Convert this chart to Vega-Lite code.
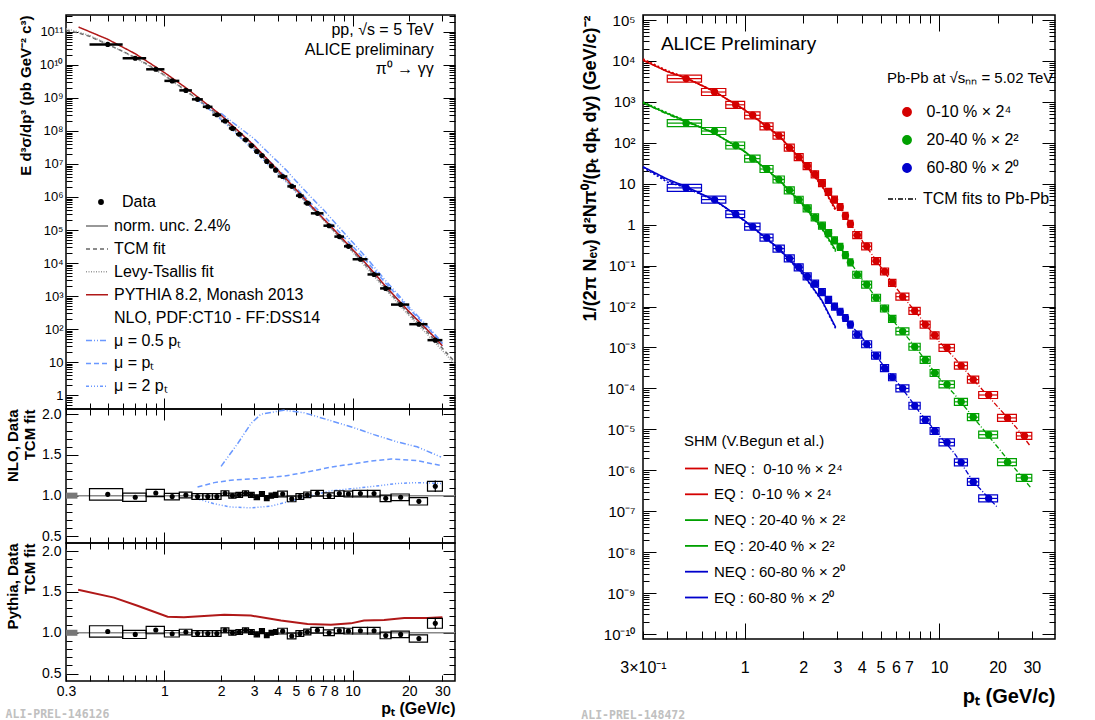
{
"$schema": "https://vega.github.io/schema/vega-lite/v6.json",
"padding": {"left": 4, "top": 0, "right": 0, "bottom": 0},
"config": {
  "font": "Liberation Sans",
  "view": {"stroke": "black", "strokeWidth": 1.5},
  "axis": {"domain": false, "grid": false, "labelColor": "black", "tickColor": "black", "titleColor": "black", "labelOverlap": false, "labelFlush": false, "tickWidth": 1, "labelFont": "Liberation Sans", "titleFont": "Liberation Sans"},
  "legend": {"padding": 0, "labelColor": "black", "titleColor": "black", "labelFont": "Liberation Sans", "titleFont": "Liberation Sans", "labelLimit": 400}
},
"datasets": {
"pp": [
{"x":0.5,"xlo":0.4,"xhi":0.6,"y":4.2e10,"r":1.016,"rlo":0.946,"rhi":1.086,"elo":1.006,"ehi":1.026},
{"x":0.7,"xlo":0.6,"xhi":0.8,"y":1.6e10,"r":0.98,"rlo":0.93,"rhi":1.03,"elo":0.972,"ehi":0.988},
{"x":0.9,"xlo":0.8,"xhi":1.0,"y":7.4e9,"r":1.033,"rlo":0.988,"rhi":1.078,"elo":1.025,"ehi":1.041},
{"x":1.1,"xlo":1.0,"xhi":1.2,"y":3.3e9,"r":0.988,"rlo":0.948,"rhi":1.028,"elo":0.98,"ehi":0.996},
{"x":1.3,"xlo":1.2,"xhi":1.4,"y":1.7e9,"r":1.008,"rlo":0.973,"rhi":1.043,"elo":1.0,"ehi":1.016},
{"x":1.5,"xlo":1.4,"xhi":1.6,"y":9.1e8,"r":0.99,"rlo":0.955,"rhi":1.025,"elo":0.982,"ehi":0.998},
{"x":1.7,"xlo":1.6,"xhi":1.8,"y":5.4e8,"r":0.99,"rlo":0.955,"rhi":1.025,"elo":0.982,"ehi":0.998},
{"x":1.9,"xlo":1.8,"xhi":2.0,"y":3.1e8,"r":0.99,"rlo":0.955,"rhi":1.025,"elo":0.982,"ehi":0.998},
{"x":2.1,"xlo":2.0,"xhi":2.2,"y":2.0e8,"r":1.03,"rlo":1.0,"rhi":1.06,"elo":1.022,"ehi":1.038},
{"x":2.3,"xlo":2.2,"xhi":2.4,"y":1.2e8,"r":1.0,"rlo":0.97,"rhi":1.03,"elo":0.992,"ehi":1.008},
{"x":2.5,"xlo":2.4,"xhi":2.6,"y":8.0e7,"r":1.01,"rlo":0.98,"rhi":1.04,"elo":1.002,"ehi":1.018},
{"x":2.7,"xlo":2.6,"xhi":2.8,"y":5.4e7,"r":1.03,"rlo":1.0,"rhi":1.06,"elo":1.022,"ehi":1.038},
{"x":2.9,"xlo":2.8,"xhi":3.0,"y":3.6e7,"r":1.01,"rlo":0.98,"rhi":1.04,"elo":1.002,"ehi":1.018},
{"x":3.1,"xlo":3.0,"xhi":3.2,"y":2.4e7,"r":0.98,"rlo":0.95,"rhi":1.01,"elo":0.972,"ehi":0.988},
{"x":3.3,"xlo":3.2,"xhi":3.4,"y":1.8e7,"r":1.02,"rlo":0.99,"rhi":1.05,"elo":1.012,"ehi":1.028},
{"x":3.5,"xlo":3.4,"xhi":3.6,"y":1.2e7,"r":0.97,"rlo":0.94,"rhi":1.0,"elo":0.962,"ehi":0.978},
{"x":3.7,"xlo":3.6,"xhi":3.8,"y":8.7e6,"r":1.0,"rlo":0.97,"rhi":1.03,"elo":0.992,"ehi":1.008},
{"x":3.9,"xlo":3.8,"xhi":4.0,"y":6.5e6,"r":1.01,"rlo":0.98,"rhi":1.04,"elo":1.002,"ehi":1.018},
{"x":4.25,"xlo":4.0,"xhi":4.5,"y":4.2e6,"r":1.02,"rlo":0.985,"rhi":1.055,"elo":1.012,"ehi":1.028},
{"x":4.75,"xlo":4.5,"xhi":5.0,"y":2.1e6,"r":0.96,"rlo":0.925,"rhi":0.995,"elo":0.952,"ehi":0.968},
{"x":5.25,"xlo":5.0,"xhi":5.5,"y":1.1e6,"r":0.99,"rlo":0.955,"rhi":1.025,"elo":0.982,"ehi":0.998},
{"x":5.75,"xlo":5.5,"xhi":6.0,"y":6.5e5,"r":1.01,"rlo":0.975,"rhi":1.045,"elo":1.002,"ehi":1.018},
{"x":6.5,"xlo":6.0,"xhi":7.0,"y":3.2e5,"r":1.03,"rlo":0.995,"rhi":1.065,"elo":1.02,"ehi":1.04},
{"x":7.5,"xlo":7.0,"xhi":8.0,"y":1.35e5,"r":1.0,"rlo":0.965,"rhi":1.035,"elo":0.99,"ehi":1.01},
{"x":8.5,"xlo":8.0,"xhi":9.0,"y":6.3e4,"r":1.025,"rlo":0.99,"rhi":1.06,"elo":1.015,"ehi":1.035},
{"x":9.5,"xlo":9.0,"xhi":10,"y":3.2e4,"r":1.02,"rlo":0.985,"rhi":1.055,"elo":1.008,"ehi":1.032},
{"x":11,"xlo":10,"xhi":12,"y":1.3e4,"r":1.025,"rlo":0.985,"rhi":1.065,"elo":1.013,"ehi":1.037},
{"x":13,"xlo":12,"xhi":14,"y":4.5e3,"r":1.025,"rlo":0.985,"rhi":1.065,"elo":1.01,"ehi":1.04},
{"x":15,"xlo":14,"xhi":16,"y":1.7e3,"r":0.967,"rlo":0.927,"rhi":1.007,"elo":0.952,"ehi":0.982},
{"x":18,"xlo":16,"xhi":20,"y":550,"r":0.98,"rlo":0.94,"rhi":1.02,"elo":0.96,"ehi":1.0},
{"x":22.5,"xlo":20,"xhi":25,"y":140,"r":0.93,"rlo":0.885,"rhi":0.975,"elo":0.9,"ehi":0.96},
{"x":27.5,"xlo":25,"xhi":30,"y":46,"r":1.115,"rlo":1.055,"rhi":1.175,"elo":1.045,"ehi":1.185}
],
"ppcurves": [
{"s":"TCM fit","x":0.3,"y":1.12e11},{"s":"TCM fit","x":0.35,"y":9.3e10},{"s":"TCM fit","x":0.4,"y":7.4e10},{"s":"TCM fit","x":0.5,"y":4.2e10},{"s":"TCM fit","x":0.6,"y":2.6e10},{"s":"TCM fit","x":0.7,"y":1.66e10},{"s":"TCM fit","x":0.8,"y":1.1e10},{"s":"TCM fit","x":1.0,"y":4.9e9},{"s":"TCM fit","x":1.2,"y":2.34e9},{"s":"TCM fit","x":1.5,"y":9.1e8},{"s":"TCM fit","x":1.8,"y":4.2e8},{"s":"TCM fit","x":2.0,"y":2.5e8},{"s":"TCM fit","x":2.5,"y":7.9e7},{"s":"TCM fit","x":3.0,"y":3.0e7},{"s":"TCM fit","x":3.5,"y":1.2e7},{"s":"TCM fit","x":4.0,"y":5.75e6},{"s":"TCM fit","x":4.5,"y":2.95e6},{"s":"TCM fit","x":5.0,"y":1.5e6},{"s":"TCM fit","x":6.0,"y":5.0e5},{"s":"TCM fit","x":7.0,"y":2.1e5},{"s":"TCM fit","x":8.0,"y":9.1e4},{"s":"TCM fit","x":10,"y":2.3e4},{"s":"TCM fit","x":12,"y":7.4e3},{"s":"TCM fit","x":15,"y":1.7e3},{"s":"TCM fit","x":18,"y":550},{"s":"TCM fit","x":20,"y":282},{"s":"TCM fit","x":25,"y":79},{"s":"TCM fit","x":30,"y":26},{"s":"TCM fit","x":35,"y":10},
{"s":"Levy-Tsallis fit","x":0.3,"y":1.25e11},{"s":"Levy-Tsallis fit","x":0.35,"y":1.0e11},{"s":"Levy-Tsallis fit","x":0.4,"y":7.8e10},{"s":"Levy-Tsallis fit","x":0.5,"y":4.3e10},{"s":"Levy-Tsallis fit","x":0.7,"y":1.65e10},{"s":"Levy-Tsallis fit","x":1.0,"y":4.8e9},{"s":"Levy-Tsallis fit","x":1.5,"y":8.9e8},{"s":"Levy-Tsallis fit","x":2.0,"y":2.45e8},{"s":"Levy-Tsallis fit","x":3.0,"y":2.95e7},{"s":"Levy-Tsallis fit","x":4.0,"y":5.6e6},{"s":"Levy-Tsallis fit","x":5.0,"y":1.45e6},{"s":"Levy-Tsallis fit","x":7.0,"y":2.0e5},{"s":"Levy-Tsallis fit","x":10,"y":2.15e4},{"s":"Levy-Tsallis fit","x":15,"y":1.55e3},{"s":"Levy-Tsallis fit","x":20,"y":250},{"s":"Levy-Tsallis fit","x":25,"y":68},{"s":"Levy-Tsallis fit","x":30,"y":22},{"s":"Levy-Tsallis fit","x":35,"y":8.5},
{"s":"μ = 0.5 pₜ","x":2.0,"y":3.4e8},{"s":"μ = 0.5 pₜ","x":2.5,"y":1.28e8},{"s":"μ = 0.5 pₜ","x":3.0,"y":5.8e7},{"s":"μ = 0.5 pₜ","x":3.5,"y":2.42e7},{"s":"μ = 0.5 pₜ","x":4.0,"y":1.17e7},{"s":"μ = 0.5 pₜ","x":4.5,"y":6.05e6},{"s":"μ = 0.5 pₜ","x":5.0,"y":3.06e6},{"s":"μ = 0.5 pₜ","x":6.0,"y":1.0e6},{"s":"μ = 0.5 pₜ","x":7.0,"y":4.1e5},{"s":"μ = 0.5 pₜ","x":8.0,"y":1.74e5},{"s":"μ = 0.5 pₜ","x":10,"y":4.23e4},{"s":"μ = 0.5 pₜ","x":12,"y":1.32e4},{"s":"μ = 0.5 pₜ","x":15,"y":2.9e3},{"s":"μ = 0.5 pₜ","x":18,"y":908},{"s":"μ = 0.5 pₜ","x":20,"y":457},{"s":"μ = 0.5 pₜ","x":25,"y":122},{"s":"μ = 0.5 pₜ","x":30,"y":38},
{"s":"μ = pₜ","x":1.5,"y":1.0e9},{"s":"μ = pₜ","x":1.8,"y":4.83e8},{"s":"μ = pₜ","x":2.0,"y":2.93e8},{"s":"μ = pₜ","x":2.5,"y":9.4e7},{"s":"μ = pₜ","x":3.0,"y":3.6e7},{"s":"μ = pₜ","x":3.5,"y":1.46e7},{"s":"μ = pₜ","x":4.0,"y":7.07e6},{"s":"μ = pₜ","x":4.5,"y":3.67e6},{"s":"μ = pₜ","x":5.0,"y":1.89e6},{"s":"μ = pₜ","x":6.0,"y":6.5e5},{"s":"μ = pₜ","x":7.0,"y":2.8e5},{"s":"μ = pₜ","x":8.0,"y":1.23e5},{"s":"μ = pₜ","x":10,"y":3.2e4},{"s":"μ = pₜ","x":12,"y":1.05e4},{"s":"μ = pₜ","x":15,"y":2.45e3},{"s":"μ = pₜ","x":18,"y":798},{"s":"μ = pₜ","x":20,"y":407},{"s":"μ = pₜ","x":25,"y":112},{"s":"μ = pₜ","x":30,"y":36},
{"s":"μ = 2 pₜ","x":1.5,"y":8.7e8},{"s":"μ = 2 pₜ","x":1.8,"y":3.8e8},{"s":"μ = 2 pₜ","x":2.0,"y":2.2e8},{"s":"μ = 2 pₜ","x":2.5,"y":6.8e7},{"s":"μ = 2 pₜ","x":3.0,"y":2.55e7},{"s":"μ = 2 pₜ","x":3.5,"y":1.03e7},{"s":"μ = 2 pₜ","x":4.0,"y":5.0e6},{"s":"μ = 2 pₜ","x":4.5,"y":2.66e6},{"s":"μ = 2 pₜ","x":5.0,"y":1.41e6},{"s":"μ = 2 pₜ","x":6.0,"y":5.0e5},{"s":"μ = 2 pₜ","x":7.0,"y":2.18e5},{"s":"μ = 2 pₜ","x":8.0,"y":9.7e4},{"s":"μ = 2 pₜ","x":10,"y":2.5e4},{"s":"μ = 2 pₜ","x":12,"y":8.2e3},{"s":"μ = 2 pₜ","x":15,"y":1.93e3},{"s":"μ = 2 pₜ","x":18,"y":633},{"s":"μ = 2 pₜ","x":20,"y":326},{"s":"μ = 2 pₜ","x":25,"y":92},{"s":"μ = 2 pₜ","x":30,"y":30},
{"s":"PYTHIA 8.2, Monash 2013","x":0.35,"y":1.41e11},{"s":"PYTHIA 8.2, Monash 2013","x":0.5,"y":6.0e10},{"s":"PYTHIA 8.2, Monash 2013","x":0.7,"y":2.19e10},{"s":"PYTHIA 8.2, Monash 2013","x":1.0,"y":5.9e9},{"s":"PYTHIA 8.2, Monash 2013","x":1.3,"y":2.04e9},{"s":"PYTHIA 8.2, Monash 2013","x":2.0,"y":3.0e8},{"s":"PYTHIA 8.2, Monash 2013","x":3.0,"y":3.6e7},{"s":"PYTHIA 8.2, Monash 2013","x":4.0,"y":6.6e6},{"s":"PYTHIA 8.2, Monash 2013","x":5.0,"y":1.7e6},{"s":"PYTHIA 8.2, Monash 2013","x":6.0,"y":5.5e5},{"s":"PYTHIA 8.2, Monash 2013","x":8.0,"y":1.0e5},{"s":"PYTHIA 8.2, Monash 2013","x":10,"y":2.57e4},{"s":"PYTHIA 8.2, Monash 2013","x":12,"y":8.5e3},{"s":"PYTHIA 8.2, Monash 2013","x":15,"y":1.95e3},{"s":"PYTHIA 8.2, Monash 2013","x":20,"y":331},{"s":"PYTHIA 8.2, Monash 2013","x":25,"y":93},{"s":"PYTHIA 8.2, Monash 2013","x":30,"y":31}
],
"nlo": [
{"s":"μ = 0.5 pₜ","x":2.0,"r":1.36},{"s":"μ = 0.5 pₜ","x":2.45,"r":1.64},{"s":"μ = 0.5 pₜ","x":2.88,"r":1.885},{"s":"μ = 0.5 pₜ","x":3.25,"r":2.0},{"s":"μ = 0.5 pₜ","x":4.3,"r":2.05},{"s":"μ = 0.5 pₜ","x":5.5,"r":2.02},{"s":"μ = 0.5 pₜ","x":7.7,"r":1.92},{"s":"μ = 0.5 pₜ","x":10,"r":1.84},{"s":"μ = 0.5 pₜ","x":13,"r":1.75},{"s":"μ = 0.5 pₜ","x":17.3,"r":1.66},{"s":"μ = 0.5 pₜ","x":22,"r":1.6},{"s":"μ = 0.5 pₜ","x":29.5,"r":1.475},
{"s":"μ = pₜ","x":1.5,"r":1.107},{"s":"μ = pₜ","x":1.84,"r":1.16},{"s":"μ = pₜ","x":2.25,"r":1.19},{"s":"μ = pₜ","x":3.13,"r":1.21},{"s":"μ = pₜ","x":4.33,"r":1.24},{"s":"μ = pₜ","x":6.0,"r":1.3},{"s":"μ = pₜ","x":7.67,"r":1.35},{"s":"μ = pₜ","x":10,"r":1.39},{"s":"μ = pₜ","x":13,"r":1.43},{"s":"μ = pₜ","x":16,"r":1.45},{"s":"μ = pₜ","x":22,"r":1.43},{"s":"μ = pₜ","x":29.5,"r":1.37},
{"s":"μ = 2 pₜ","x":1.5,"r":0.96},{"s":"μ = 2 pₜ","x":1.84,"r":0.9},{"s":"μ = 2 pₜ","x":2.25,"r":0.86},{"s":"μ = 2 pₜ","x":2.88,"r":0.85},{"s":"μ = 2 pₜ","x":3.68,"r":0.87},{"s":"μ = 2 pₜ","x":4.7,"r":0.935},{"s":"μ = 2 pₜ","x":6.0,"r":1.0},{"s":"μ = 2 pₜ","x":7.67,"r":1.06},{"s":"μ = 2 pₜ","x":10,"r":1.086},{"s":"μ = 2 pₜ","x":13,"r":1.115},{"s":"μ = 2 pₜ","x":17.3,"r":1.15},{"s":"μ = 2 pₜ","x":22,"r":1.16},{"s":"μ = 2 pₜ","x":29.5,"r":1.15}
],
"pyr": [
{"x":0.348,"r":1.525},{"x":0.54,"r":1.43},{"x":0.72,"r":1.33},{"x":1.04,"r":1.197},{"x":1.27,"r":1.19},{"x":2.08,"r":1.22},{"x":2.88,"r":1.21},{"x":4.16,"r":1.15},{"x":5.76,"r":1.107},{"x":7.67,"r":1.098},{"x":9.79,"r":1.115},{"x":11.5,"r":1.15},{"x":14.7,"r":1.156},{"x":18.8,"r":1.18},{"x":25,"r":1.18},{"x":30,"r":1.19}
],
"pbpb": [
{"c":"0-10 % × 2⁴","x":0.5,"lo":0.4,"hi":0.6,"y":3700},{"c":"0-10 % × 2⁴","x":0.7,"lo":0.6,"hi":0.8,"y":1740},{"c":"0-10 % × 2⁴","x":0.9,"lo":0.8,"hi":1.0,"y":847},{"c":"0-10 % × 2⁴","x":1.1,"lo":1.0,"hi":1.2,"y":470},{"c":"0-10 % × 2⁴","x":1.3,"lo":1.2,"hi":1.4,"y":251},{"c":"0-10 % × 2⁴","x":1.5,"lo":1.4,"hi":1.6,"y":150},{"c":"0-10 % × 2⁴","x":1.7,"lo":1.6,"hi":1.8,"y":76},{"c":"0-10 % × 2⁴","x":1.9,"lo":1.8,"hi":2.0,"y":44.5},{"c":"0-10 % × 2⁴","x":2.1,"lo":2.0,"hi":2.2,"y":27},{"c":"0-10 % × 2⁴","x":2.3,"lo":2.2,"hi":2.4,"y":17},{"c":"0-10 % × 2⁴","x":2.5,"lo":2.4,"hi":2.6,"y":10.4},{"c":"0-10 % × 2⁴","x":2.7,"lo":2.6,"hi":2.8,"y":6.3},{"c":"0-10 % × 2⁴","x":2.9,"lo":2.8,"hi":3.0,"y":4.1},{"c":"0-10 % × 2⁴","x":3.1,"lo":3.0,"hi":3.2,"y":2.7},{"c":"0-10 % × 2⁴","x":3.3,"lo":3.2,"hi":3.4,"y":1.64},{"c":"0-10 % × 2⁴","x":3.5,"lo":3.4,"hi":3.6,"y":1.04},{"c":"0-10 % × 2⁴","x":3.8,"lo":3.6,"hi":4.0,"y":0.555},{"c":"0-10 % × 2⁴","x":4.25,"lo":4.0,"hi":4.5,"y":0.296},{"c":"0-10 % × 2⁴","x":4.75,"lo":4.5,"hi":5.0,"y":0.129},{"c":"0-10 % × 2⁴","x":5.25,"lo":5.0,"hi":5.5,"y":0.0718},{"c":"0-10 % × 2⁴","x":5.75,"lo":5.5,"hi":6.0,"y":0.0377},{"c":"0-10 % × 2⁴","x":6.5,"lo":6.0,"hi":7.0,"y":0.0174},{"c":"0-10 % × 2⁴","x":7.5,"lo":7.0,"hi":8.0,"y":0.00787},{"c":"0-10 % × 2⁴","x":8.5,"lo":8.0,"hi":9.0,"y":0.00363},{"c":"0-10 % × 2⁴","x":9.5,"lo":9.0,"hi":10,"y":0.00198},{"c":"0-10 % × 2⁴","x":11,"lo":10,"hi":12,"y":9.8e-4},{"c":"0-10 % × 2⁴","x":13,"lo":12,"hi":14,"y":3.6e-4},{"c":"0-10 % × 2⁴","x":15,"lo":14,"hi":16,"y":1.64e-4},{"c":"0-10 % × 2⁴","x":18,"lo":16,"hi":20,"y":6.9e-5},{"c":"0-10 % × 2⁴","x":22.5,"lo":20,"hi":25,"y":1.9e-5},{"c":"0-10 % × 2⁴","x":27.5,"lo":25,"hi":30,"y":6.9e-6},
{"c":"20-40 % × 2²","x":0.5,"lo":0.4,"hi":0.6,"y":302},{"c":"20-40 % × 2²","x":0.7,"lo":0.6,"hi":0.8,"y":194},{"c":"20-40 % × 2²","x":0.9,"lo":0.8,"hi":1.0,"y":86},{"c":"20-40 % × 2²","x":1.1,"lo":1.0,"hi":1.2,"y":41},{"c":"20-40 % × 2²","x":1.3,"lo":1.2,"hi":1.4,"y":22.9},{"c":"20-40 % × 2²","x":1.5,"lo":1.4,"hi":1.6,"y":12.7},{"c":"20-40 % × 2²","x":1.7,"lo":1.6,"hi":1.8,"y":6.9},{"c":"20-40 % × 2²","x":1.9,"lo":1.8,"hi":2.0,"y":4.06},{"c":"20-40 % × 2²","x":2.1,"lo":2.0,"hi":2.2,"y":2.51},{"c":"20-40 % × 2²","x":2.3,"lo":2.2,"hi":2.4,"y":1.5},{"c":"20-40 % × 2²","x":2.5,"lo":2.4,"hi":2.6,"y":0.946},{"c":"20-40 % × 2²","x":2.7,"lo":2.6,"hi":2.8,"y":0.62},{"c":"20-40 % × 2²","x":2.9,"lo":2.8,"hi":3.0,"y":0.413},{"c":"20-40 % × 2²","x":3.1,"lo":3.0,"hi":3.2,"y":0.286},{"c":"20-40 % × 2²","x":3.3,"lo":3.2,"hi":3.4,"y":0.18},{"c":"20-40 % × 2²","x":3.5,"lo":3.4,"hi":3.6,"y":0.12},{"c":"20-40 % × 2²","x":3.8,"lo":3.6,"hi":4.0,"y":0.0597},{"c":"20-40 % × 2²","x":4.25,"lo":4.0,"hi":4.5,"y":0.0344},{"c":"20-40 % × 2²","x":4.75,"lo":4.5,"hi":5.0,"y":0.0164},{"c":"20-40 % × 2²","x":5.25,"lo":5.0,"hi":5.5,"y":0.00895},{"c":"20-40 % × 2²","x":5.75,"lo":5.5,"hi":6.0,"y":0.00497},{"c":"20-40 % × 2²","x":6.5,"lo":6.0,"hi":7.0,"y":0.00247},{"c":"20-40 % × 2²","x":7.5,"lo":7.0,"hi":8.0,"y":0.00104},{"c":"20-40 % × 2²","x":8.5,"lo":8.0,"hi":9.0,"y":4.97e-4},{"c":"20-40 % × 2²","x":9.5,"lo":9.0,"hi":10,"y":2.38e-4},{"c":"20-40 % × 2²","x":11,"lo":10,"hi":12,"y":1.25e-4},{"c":"20-40 % × 2²","x":13,"lo":12,"hi":14,"y":4.7e-5},{"c":"20-40 % × 2²","x":15,"lo":14,"hi":16,"y":1.98e-5},{"c":"20-40 % × 2²","x":18,"lo":16,"hi":20,"y":7.4e-6},{"c":"20-40 % × 2²","x":22.5,"lo":20,"hi":25,"y":1.58e-6},{"c":"20-40 % × 2²","x":27.5,"lo":25,"hi":30,"y":6.5e-7},
{"c":"60-80 % × 2⁰","x":0.5,"lo":0.4,"hi":0.6,"y":7.9},{"c":"60-80 % × 2⁰","x":0.7,"lo":0.6,"hi":0.8,"y":4.1},{"c":"60-80 % × 2⁰","x":0.9,"lo":0.8,"hi":1.0,"y":1.8},{"c":"60-80 % × 2⁰","x":1.1,"lo":1.0,"hi":1.2,"y":0.895},{"c":"60-80 % × 2⁰","x":1.3,"lo":1.2,"hi":1.4,"y":0.48},{"c":"60-80 % × 2⁰","x":1.5,"lo":1.4,"hi":1.6,"y":0.26},{"c":"60-80 % × 2⁰","x":1.7,"lo":1.6,"hi":1.8,"y":0.15},{"c":"60-80 % × 2⁰","x":1.9,"lo":1.8,"hi":2.0,"y":0.091},{"c":"60-80 % × 2⁰","x":2.1,"lo":2.0,"hi":2.2,"y":0.0545},{"c":"60-80 % × 2⁰","x":2.3,"lo":2.2,"hi":2.4,"y":0.0363},{"c":"60-80 % × 2⁰","x":2.5,"lo":2.4,"hi":2.6,"y":0.0225},{"c":"60-80 % × 2⁰","x":2.7,"lo":2.6,"hi":2.8,"y":0.0145},{"c":"60-80 % × 2⁰","x":2.9,"lo":2.8,"hi":3.0,"y":0.01},{"c":"60-80 % × 2⁰","x":3.1,"lo":3.0,"hi":3.2,"y":0.00745},{"c":"60-80 % × 2⁰","x":3.3,"lo":3.2,"hi":3.4,"y":0.00525},{"c":"60-80 % × 2⁰","x":3.5,"lo":3.4,"hi":3.6,"y":0.00363},{"c":"60-80 % × 2⁰","x":3.8,"lo":3.6,"hi":4.0,"y":0.00205},{"c":"60-80 % × 2⁰","x":4.25,"lo":4.0,"hi":4.5,"y":0.0012},{"c":"60-80 % × 2⁰","x":4.75,"lo":4.5,"hi":5.0,"y":6.3e-4},{"c":"60-80 % × 2⁰","x":5.25,"lo":5.0,"hi":5.5,"y":3.13e-4},{"c":"60-80 % × 2⁰","x":5.75,"lo":5.5,"hi":6.0,"y":1.87e-4},{"c":"60-80 % × 2⁰","x":6.5,"lo":6.0,"hi":7.0,"y":1.0e-4},{"c":"60-80 % × 2⁰","x":7.5,"lo":7.0,"hi":8.0,"y":3.77e-5},{"c":"60-80 % × 2⁰","x":8.5,"lo":8.0,"hi":9.0,"y":1.7e-5},{"c":"60-80 % × 2⁰","x":9.5,"lo":9.0,"hi":10,"y":9.1e-6},{"c":"60-80 % × 2⁰","x":11,"lo":10,"hi":12,"y":4.8e-6},{"c":"60-80 % × 2⁰","x":13,"lo":12,"hi":14,"y":1.56e-6},{"c":"60-80 % × 2⁰","x":15,"lo":14,"hi":16,"y":5.2e-7},{"c":"60-80 % × 2⁰","x":18,"lo":16,"hi":20,"y":2.05e-7}
],
"pbfit": [
{"c":"0-10 % × 2⁴","x":0.3,"y":1.04e4},{"c":"0-10 % × 2⁴","x":0.4,"y":5500},{"c":"0-10 % × 2⁴","x":0.5,"y":3800},{"c":"0-10 % × 2⁴","x":0.7,"y":1750},{"c":"0-10 % × 2⁴","x":1.0,"y":640},{"c":"0-10 % × 2⁴","x":1.5,"y":150},{"c":"0-10 % × 2⁴","x":2.0,"y":35},{"c":"0-10 % × 2⁴","x":2.5,"y":10.5},{"c":"0-10 % × 2⁴","x":3.0,"y":3.3},{"c":"0-10 % × 2⁴","x":3.5,"y":1.05},{"c":"0-10 % × 2⁴","x":4.0,"y":0.42},{"c":"0-10 % × 2⁴","x":5.0,"y":0.095},{"c":"0-10 % × 2⁴","x":6.0,"y":0.029},{"c":"0-10 % × 2⁴","x":7.0,"y":0.0117},{"c":"0-10 % × 2⁴","x":8.0,"y":0.0054},{"c":"0-10 % × 2⁴","x":10,"y":0.0014},{"c":"0-10 % × 2⁴","x":12,"y":5.6e-4},{"c":"0-10 % × 2⁴","x":15,"y":1.64e-4},{"c":"0-10 % × 2⁴","x":20,"y":3.6e-5},{"c":"0-10 % × 2⁴","x":25,"y":1.1e-5},{"c":"0-10 % × 2⁴","x":29.6,"y":3.8e-6},
{"c":"20-40 % × 2²","x":0.3,"y":946},{"c":"20-40 % × 2²","x":0.4,"y":500},{"c":"20-40 % × 2²","x":0.5,"y":320},{"c":"20-40 % × 2²","x":0.7,"y":180},{"c":"20-40 % × 2²","x":1.0,"y":60},{"c":"20-40 % × 2²","x":1.5,"y":12.7},{"c":"20-40 % × 2²","x":2.0,"y":3.2},{"c":"20-40 % × 2²","x":2.5,"y":0.95},{"c":"20-40 % × 2²","x":3.0,"y":0.34},{"c":"20-40 % × 2²","x":3.5,"y":0.12},{"c":"20-40 % × 2²","x":4.0,"y":0.048},{"c":"20-40 % × 2²","x":5.0,"y":0.0119},{"c":"20-40 % × 2²","x":6.0,"y":0.0037},{"c":"20-40 % × 2²","x":7.0,"y":0.0016},{"c":"20-40 % × 2²","x":8.0,"y":7.2e-4},{"c":"20-40 % × 2²","x":10,"y":1.8e-4},{"c":"20-40 % × 2²","x":12,"y":7.2e-5},{"c":"20-40 % × 2²","x":15,"y":1.98e-5},{"c":"20-40 % × 2²","x":20,"y":3.7e-6},{"c":"20-40 % × 2²","x":25,"y":1.0e-6},{"c":"20-40 % × 2²","x":29.6,"y":3.8e-7},
{"c":"60-80 % × 2⁰","x":0.3,"y":26},{"c":"60-80 % × 2⁰","x":0.4,"y":12},{"c":"60-80 % × 2⁰","x":0.5,"y":7.9},{"c":"60-80 % × 2⁰","x":0.7,"y":4.0},{"c":"60-80 % × 2⁰","x":1.0,"y":1.25},{"c":"60-80 % × 2⁰","x":1.5,"y":0.26},{"c":"60-80 % × 2⁰","x":2.0,"y":0.07},{"c":"60-80 % × 2⁰","x":2.5,"y":0.0225},{"c":"60-80 % × 2⁰","x":3.0,"y":0.0087},{"c":"60-80 % × 2⁰","x":3.5,"y":0.0036},{"c":"60-80 % × 2⁰","x":4.0,"y":0.0018},{"c":"60-80 % × 2⁰","x":5.0,"y":4.5e-4},{"c":"60-80 % × 2⁰","x":6.0,"y":1.55e-4},{"c":"60-80 % × 2⁰","x":7.0,"y":6.0e-5},{"c":"60-80 % × 2⁰","x":8.0,"y":2.5e-5},{"c":"60-80 % × 2⁰","x":10,"y":7.2e-6},{"c":"60-80 % × 2⁰","x":12,"y":2.6e-6},{"c":"60-80 % × 2⁰","x":15,"y":5.3e-7},{"c":"60-80 % × 2⁰","x":19.8,"y":1.3e-7}
],
"shm": [
{"m":"NEQ : \u00a00-10 % × 2⁴","x":0.3,"y":1.04e4},{"m":"NEQ : \u00a00-10 % × 2⁴","x":0.4,"y":5500},{"m":"NEQ : \u00a00-10 % × 2⁴","x":0.5,"y":3800},{"m":"NEQ : \u00a00-10 % × 2⁴","x":0.7,"y":1800},{"m":"NEQ : \u00a00-10 % × 2⁴","x":1.0,"y":640},{"m":"NEQ : \u00a00-10 % × 2⁴","x":1.5,"y":150},{"m":"NEQ : \u00a00-10 % × 2⁴","x":2.0,"y":34},{"m":"NEQ : \u00a00-10 % × 2⁴","x":2.5,"y":9.0},{"m":"NEQ : \u00a00-10 % × 2⁴","x":2.94,"y":2.4},
{"m":"EQ : \u00a00-10 % × 2⁴","x":0.3,"y":1.12e4},{"m":"EQ : \u00a00-10 % × 2⁴","x":0.4,"y":5800},{"m":"EQ : \u00a00-10 % × 2⁴","x":0.5,"y":3900},{"m":"EQ : \u00a00-10 % × 2⁴","x":0.7,"y":1800},{"m":"EQ : \u00a00-10 % × 2⁴","x":1.0,"y":630},{"m":"EQ : \u00a00-10 % × 2⁴","x":1.5,"y":145},{"m":"EQ : \u00a00-10 % × 2⁴","x":2.0,"y":33},{"m":"EQ : \u00a00-10 % × 2⁴","x":2.5,"y":8.6},{"m":"EQ : \u00a00-10 % × 2⁴","x":2.94,"y":2.2},
{"m":"NEQ : 20-40 % × 2²","x":0.3,"y":946},{"m":"NEQ : 20-40 % × 2²","x":0.4,"y":520},{"m":"NEQ : 20-40 % × 2²","x":0.5,"y":340},{"m":"NEQ : 20-40 % × 2²","x":0.7,"y":170},{"m":"NEQ : 20-40 % × 2²","x":1.0,"y":62},{"m":"NEQ : 20-40 % × 2²","x":1.5,"y":12.5},{"m":"NEQ : 20-40 % × 2²","x":2.0,"y":3.0},{"m":"NEQ : 20-40 % × 2²","x":2.5,"y":0.82},{"m":"NEQ : 20-40 % × 2²","x":2.94,"y":0.24},
{"m":"EQ : 20-40 % × 2²","x":0.3,"y":1000},{"m":"EQ : 20-40 % × 2²","x":0.4,"y":540},{"m":"EQ : 20-40 % × 2²","x":0.5,"y":345},{"m":"EQ : 20-40 % × 2²","x":0.7,"y":170},{"m":"EQ : 20-40 % × 2²","x":1.0,"y":61},{"m":"EQ : 20-40 % × 2²","x":1.5,"y":12.2},{"m":"EQ : 20-40 % × 2²","x":2.0,"y":2.9},{"m":"EQ : 20-40 % × 2²","x":2.5,"y":0.78},{"m":"EQ : 20-40 % × 2²","x":2.94,"y":0.22},
{"m":"NEQ : 60-80 % × 2⁰","x":0.3,"y":26},{"m":"NEQ : 60-80 % × 2⁰","x":0.4,"y":13},{"m":"NEQ : 60-80 % × 2⁰","x":0.5,"y":8.5},{"m":"NEQ : 60-80 % × 2⁰","x":0.7,"y":4.0},{"m":"NEQ : 60-80 % × 2⁰","x":1.0,"y":1.25},{"m":"NEQ : 60-80 % × 2⁰","x":1.5,"y":0.26},{"m":"NEQ : 60-80 % × 2⁰","x":2.0,"y":0.062},{"m":"NEQ : 60-80 % × 2⁰","x":2.5,"y":0.014},{"m":"NEQ : 60-80 % × 2⁰","x":2.94,"y":0.0031},
{"m":"EQ : 60-80 % × 2⁰","x":0.3,"y":25},{"m":"EQ : 60-80 % × 2⁰","x":0.4,"y":11},{"m":"EQ : 60-80 % × 2⁰","x":0.5,"y":8.0},{"m":"EQ : 60-80 % × 2⁰","x":0.7,"y":3.9},{"m":"EQ : 60-80 % × 2⁰","x":1.0,"y":1.22},{"m":"EQ : 60-80 % × 2⁰","x":1.5,"y":0.25},{"m":"EQ : 60-80 % × 2⁰","x":2.0,"y":0.06},{"m":"EQ : 60-80 % × 2⁰","x":2.5,"y":0.0135},{"m":"EQ : 60-80 % × 2⁰","x":2.94,"y":0.0029}
]
},
"columns": 2,
"align": "none",
"spacing": 121,
"resolve": {"scale": {"color": "independent", "strokeDash": "independent", "stroke": "independent", "shape": "independent"}, "legend": {"color": "independent", "strokeDash": "independent", "stroke": "independent", "shape": "independent"}},
"concat": [
{
"vconcat": [
{
"width": 389, "height": 394,
"resolve": {"axis": {"x": "independent", "y": "independent"}},
"layer": [
{"data": {"name": "pp"}, "mark": {"type": "point", "opacity": 0},
 "encoding": {
  "x": {"field": "x", "type": "quantitative", "scale": {"type": "log", "domain": [0.3, 35], "nice": false},
        "axis": {"orient": "top", "values": [0.3,0.4,0.5,0.6,0.7,0.8,0.9,1,2,3,4,5,6,7,8,9,10,20,30], "labels": false, "title": null,
                 "tickSize": {"condition": {"test": "datum.value == 1 || datum.value == 10", "value": -11}, "value": -6}}},
  "y": {"field": "y", "type": "quantitative", "scale": {"type": "log", "domain": [0.377, 3.27e11], "nice": false},
        "axis": {"orient": "right", "values": [0.4,0.5,0.6,0.7,0.8,0.9,1,2,3,4,5,6,7,8,9,10,20,30,40,50,60,70,80,90,100,200,300,400,500,600,700,800,900,1000,2000,3000,4000,5000,6000,7000,8000,9000,1e4,2e4,3e4,4e4,5e4,6e4,7e4,8e4,9e4,1e5,2e5,3e5,4e5,5e5,6e5,7e5,8e5,9e5,1e6,2e6,3e6,4e6,5e6,6e6,7e6,8e6,9e6,1e7,2e7,3e7,4e7,5e7,6e7,7e7,8e7,9e7,1e8,2e8,3e8,4e8,5e8,6e8,7e8,8e8,9e8,1e9,2e9,3e9,4e9,5e9,6e9,7e9,8e9,9e9,1e10,2e10,3e10,4e10,5e10,6e10,7e10,8e10,9e10,1e11,2e11,3e11], "labels": false, "title": null,
                 "tickSize": {"condition": {"test": "abs(log(datum.value)/LN10 - round(log(datum.value)/LN10)) < 1e-6", "value": -12}, "value": -6}}}
 }},
{"data": {"name": "ppcurves"}, "mark": {"type": "line", "strokeWidth": 1.5},
 "encoding": {
  "x": {"field": "x", "type": "quantitative", "scale": {"type": "log", "domain": [0.3, 35], "nice": false},
        "axis": {"orient": "bottom", "values": [0.3,0.4,0.5,0.6,0.7,0.8,0.9,1,2,3,4,5,6,7,8,9,10,20,30], "labels": false, "title": null,
                 "tickSize": {"condition": {"test": "datum.value == 1 || datum.value == 10", "value": -11}, "value": -6}}},
  "y": {"field": "y", "type": "quantitative", "scale": {"type": "log", "domain": [0.377, 3.27e11], "nice": false},
        "axis": {"orient": "left", "values": [0.4,0.5,0.6,0.7,0.8,0.9,1,2,3,4,5,6,7,8,9,10,20,30,40,50,60,70,80,90,100,200,300,400,500,600,700,800,900,1000,2000,3000,4000,5000,6000,7000,8000,9000,1e4,2e4,3e4,4e4,5e4,6e4,7e4,8e4,9e4,1e5,2e5,3e5,4e5,5e5,6e5,7e5,8e5,9e5,1e6,2e6,3e6,4e6,5e6,6e6,7e6,8e6,9e6,1e7,2e7,3e7,4e7,5e7,6e7,7e7,8e7,9e7,1e8,2e8,3e8,4e8,5e8,6e8,7e8,8e8,9e8,1e9,2e9,3e9,4e9,5e9,6e9,7e9,8e9,9e9,1e10,2e10,3e10,4e10,5e10,6e10,7e10,8e10,9e10,1e11,2e11,3e11],
                 "tickSize": {"condition": {"test": "abs(log(datum.value)/LN10 - round(log(datum.value)/LN10)) < 1e-6", "value": -12}, "value": -6},
                 "labelPadding": 15, "labelFontSize": 13,
                 "labelExpr": "abs(log(datum.value)/LN10 - round(log(datum.value)/LN10)) < 1e-6 ? (datum.value == 1 ? '1' : datum.value == 10 ? '10' : '10' + replace(replace(replace(replace(replace(replace(replace(replace(replace(replace(replace('' + round(log(datum.value)/LN10), '-', '⁻'), regexp('1','g'), '¹'), '0', '⁰'), '2', '²'), '3', '³'), '4', '⁴'), '5', '⁵'), '6', '⁶'), '7', '⁷'), '8', '⁸'), '9', '⁹')) : ''",
                 "title": "E d³σ/dp³ (pb GeV⁻² c³)", "titleAnchor": "end", "titleFontSize": 15, "titleFontWeight": "bold", "titlePadding": 6}},
  "color": {"field": "s", "type": "nominal",
   "scale": {"domain": ["norm. unc. 2.4%", "TCM fit", "Levy-Tsallis fit", "PYTHIA 8.2, Monash 2013", "NLO, PDF:CT10 - FF:DSS14", "μ = 0.5 pₜ", "μ = pₜ", "μ = 2 pₜ"],
             "range": ["#777777", "#666666", "#999999", "#b01818", "white", "#6a98ff", "#6a98ff", "#6a98ff"]},
   "legend": {"orient": "none", "legendX": 19, "legendY": 199, "title": null, "labelFontSize": 16, "symbolSize": 484, "symbolType": "stroke", "symbolStrokeWidth": 1.5, "rowPadding": 2.9, "labelOffset": 5}},
  "strokeDash": {"field": "s", "type": "nominal",
   "scale": {"domain": ["norm. unc. 2.4%", "TCM fit", "Levy-Tsallis fit", "PYTHIA 8.2, Monash 2013", "NLO, PDF:CT10 - FF:DSS14", "μ = 0.5 pₜ", "μ = pₜ", "μ = 2 pₜ"],
             "range": [[1,0],[4,3],[1,1.5],[1,0],[1,0],[6,2,1,2,1,2],[5,3],[3,2,1,2,1,2,1,2]]},
   "legend": {"orient": "none", "legendX": 19, "legendY": 199, "title": null, "labelFontSize": 16, "symbolSize": 484, "symbolType": "stroke", "symbolStrokeWidth": 1.5, "rowPadding": 2.9, "labelOffset": 5}}
 }},
{"data": {"name": "pp"}, "mark": {"type": "rule", "strokeWidth": 2.5, "color": "black"},
 "encoding": {
  "x": {"field": "xlo", "type": "quantitative", "scale": {"type": "log", "domain": [0.3, 35], "nice": false}, "axis": null},
  "x2": {"field": "xhi"},
  "y": {"field": "y", "type": "quantitative", "scale": {"type": "log", "domain": [0.377, 3.27e11], "nice": false}, "axis": null}
 }},
{"data": {"name": "pp"}, "mark": {"type": "point", "filled": true, "size": 26, "color": "black", "opacity": 1},
 "encoding": {
  "x": {"field": "x", "type": "quantitative", "scale": {"type": "log", "domain": [0.3, 35], "nice": false}, "axis": null},
  "y": {"field": "y", "type": "quantitative", "scale": {"type": "log", "domain": [0.377, 3.27e11], "nice": false}, "axis": null},
  "shape": {"datum": "Data", "type": "nominal", "scale": {"domain": ["Data"], "range": ["circle"]},
   "legend": {"orient": "none", "legendX": 27, "legendY": 179, "title": null, "labelFontSize": 16, "symbolSize": 34, "symbolFillColor": "black", "symbolStrokeColor": "black", "labelOffset": 13}}
 }},
{"data": {"values": [{}]}, "mark": {"type": "text", "align": "right", "baseline": "top", "fontSize": 16, "lineHeight": 19.5, "text": ["pp, √s = 5 TeV", "ALICE preliminary", "π⁰ → γγ"]},
 "encoding": {
  "x": {"datum": 27, "type": "quantitative", "scale": {"type": "log", "domain": [0.3, 35], "nice": false}, "axis": null},
  "y": {"datum": 2.0e11, "type": "quantitative", "scale": {"type": "log", "domain": [0.377, 3.27e11], "nice": false}, "axis": null}
 }}
]
},
{
"width": 389, "height": 134,
"resolve": {"axis": {"x": "independent", "y": "independent"}},
"layer": [
{"data": {"name": "pp"}, "mark": {"type": "point", "opacity": 0},
 "encoding": {
  "x": {"field": "x", "type": "quantitative", "scale": {"type": "log", "domain": [0.3, 35], "nice": false},
        "axis": {"orient": "top", "values": [0.3,0.4,0.5,0.6,0.7,0.8,0.9,1,2,3,4,5,6,7,8,9,10,20,30], "labels": false, "title": null,
                 "tickSize": {"condition": {"test": "datum.value == 1 || datum.value == 10", "value": -11}, "value": -6}}},
  "y": {"field": "r", "type": "quantitative", "scale": {"type": "linear", "domain": [0.418, 2.065], "nice": false, "zero": false},
        "axis": {"orient": "right", "values": [0.5,0.6,0.7,0.8,0.9,1,1.1,1.2,1.3,1.4,1.5,1.6,1.7,1.8,1.9,2], "labels": false, "title": null,
                 "tickSize": {"condition": {"test": "datum.value == 0.5 || datum.value == 1 || datum.value == 1.5 || datum.value == 2", "value": -12}, "value": -6}}}
 }},
{"data": {"values": [{}]}, "mark": {"type": "rule", "color": "#888888", "strokeWidth": 1.5},
 "encoding": {"y": {"datum": 1, "type": "quantitative", "scale": {"type": "linear", "domain": [0.418, 2.065], "nice": false, "zero": false}, "axis": null}}},
{"data": {"values": [{}]}, "mark": {"type": "rect", "color": "#777777"},
 "encoding": {
  "x": {"datum": 0.3, "type": "quantitative", "scale": {"type": "log", "domain": [0.3, 35], "nice": false}, "axis": null},
  "x2": {"datum": 0.345},
  "y": {"datum": 0.963, "type": "quantitative", "scale": {"type": "linear", "domain": [0.418, 2.065], "nice": false, "zero": false}, "axis": null},
  "y2": {"datum": 1.037}
 }},
{"data": {"name": "nlo"}, "mark": {"type": "line", "strokeWidth": 1.5, "color": "#6a98ff"},
 "encoding": {
  "x": {"field": "x", "type": "quantitative", "scale": {"type": "log", "domain": [0.3, 35], "nice": false},
        "axis": {"orient": "bottom", "values": [0.3,0.4,0.5,0.6,0.7,0.8,0.9,1,2,3,4,5,6,7,8,9,10,20,30], "labels": false, "title": null,
                 "tickSize": {"condition": {"test": "datum.value == 1 || datum.value == 10", "value": -11}, "value": -6}}},
  "y": {"field": "r", "type": "quantitative", "scale": {"type": "linear", "domain": [0.418, 2.065], "nice": false, "zero": false},
        "axis": {"orient": "left", "values": [0.5,0.6,0.7,0.8,0.9,1,1.1,1.2,1.3,1.4,1.5,1.6,1.7,1.8,1.9,2],
                 "tickSize": {"condition": {"test": "datum.value == 0.5 || datum.value == 1 || datum.value == 1.5 || datum.value == 2", "value": -12}, "value": -6},
                 "labelPadding": 17, "labelFontSize": 14,
                 "labelExpr": "indexof([0.5,1,1.5,2], datum.value) >= 0 ? format(datum.value, '.1f') : ''",
                 "title": ["NLO, Data", "TCM fit"], "titleAnchor": "end", "titleFontSize": 15, "titleFontWeight": "bold", "titlePadding": 4}},
  "strokeDash": {"field": "s", "type": "nominal", "legend": null,
   "scale": {"domain": ["μ = 0.5 pₜ", "μ = pₜ", "μ = 2 pₜ"], "range": [[6,2,1,2,1,2],[5,3],[3,2,1,2,1,2,1,2]]}}
 }},
{"data": {"name": "pp"}, "mark": {"type": "rect", "filled": false, "color": "black", "strokeWidth": 1.2},
 "encoding": {
  "x": {"field": "xlo", "type": "quantitative", "scale": {"type": "log", "domain": [0.3, 35], "nice": false}, "axis": null},
  "x2": {"field": "xhi"},
  "y": {"field": "rlo", "type": "quantitative", "scale": {"type": "linear", "domain": [0.418, 2.065], "nice": false, "zero": false}, "axis": null},
  "y2": {"field": "rhi"}
 }},
{"data": {"name": "pp"}, "mark": {"type": "rule", "color": "black", "strokeWidth": 1.2},
 "encoding": {
  "x": {"field": "x", "type": "quantitative", "scale": {"type": "log", "domain": [0.3, 35], "nice": false}, "axis": null},
  "y": {"field": "elo", "type": "quantitative", "scale": {"type": "linear", "domain": [0.418, 2.065], "nice": false, "zero": false}, "axis": null},
  "y2": {"field": "ehi"}
 }},
{"data": {"name": "pp"}, "mark": {"type": "circle", "size": 26, "color": "black", "opacity": 1},
 "encoding": {
  "x": {"field": "x", "type": "quantitative", "scale": {"type": "log", "domain": [0.3, 35], "nice": false}, "axis": null},
  "y": {"field": "r", "type": "quantitative", "scale": {"type": "linear", "domain": [0.418, 2.065], "nice": false, "zero": false}, "axis": null}
 }}
]
},
{
"width": 389, "height": 138,
"title": {"text": "ALI-PREL-146126", "orient": "bottom", "anchor": "start", "frame": "bounds", "font": "DejaVu Sans Mono", "fontSize": 11.5, "fontWeight": "bold", "color": "#c0c0c0", "offset": -7},
"resolve": {"axis": {"x": "independent", "y": "independent"}},
"layer": [
{"data": {"name": "pp"}, "mark": {"type": "point", "opacity": 0},
 "encoding": {
  "x": {"field": "x", "type": "quantitative", "scale": {"type": "log", "domain": [0.3, 35], "nice": false},
        "axis": {"orient": "top", "values": [0.3,0.4,0.5,0.6,0.7,0.8,0.9,1,2,3,4,5,6,7,8,9,10,20,30], "labels": false, "title": null,
                 "tickSize": {"condition": {"test": "datum.value == 1 || datum.value == 10", "value": -11}, "value": -6}}},
  "y": {"field": "r", "type": "quantitative", "scale": {"type": "linear", "domain": [0.41, 2.098], "nice": false, "zero": false},
        "axis": {"orient": "right", "values": [0.5,0.6,0.7,0.8,0.9,1,1.1,1.2,1.3,1.4,1.5,1.6,1.7,1.8,1.9,2], "labels": false, "title": null,
                 "tickSize": {"condition": {"test": "datum.value == 0.5 || datum.value == 1 || datum.value == 1.5 || datum.value == 2", "value": -12}, "value": -6}}}
 }},
{"data": {"values": [{}]}, "mark": {"type": "rule", "color": "#888888", "strokeWidth": 1.5},
 "encoding": {"y": {"datum": 1, "type": "quantitative", "scale": {"type": "linear", "domain": [0.41, 2.098], "nice": false, "zero": false}, "axis": null}}},
{"data": {"values": [{}]}, "mark": {"type": "rect", "color": "#777777"},
 "encoding": {
  "x": {"datum": 0.3, "type": "quantitative", "scale": {"type": "log", "domain": [0.3, 35], "nice": false}, "axis": null},
  "x2": {"datum": 0.345},
  "y": {"datum": 0.963, "type": "quantitative", "scale": {"type": "linear", "domain": [0.41, 2.098], "nice": false, "zero": false}, "axis": null},
  "y2": {"datum": 1.037}
 }},
{"data": {"name": "pyr"}, "mark": {"type": "line", "strokeWidth": 2, "color": "#b01818"},
 "encoding": {
  "x": {"field": "x", "type": "quantitative", "scale": {"type": "log", "domain": [0.3, 35], "nice": false},
        "axis": {"orient": "bottom", "values": [0.3,0.4,0.5,0.6,0.7,0.8,0.9,1,2,3,4,5,6,7,8,9,10,20,30],
                 "tickSize": {"condition": {"test": "datum.value == 1 || datum.value == 10", "value": -11}, "value": -6},
                 "labelPadding": {"condition": {"test": "datum.value == 1 || datum.value == 10", "value": 14}, "value": 9},
                 "labelFontSize": 14,
                 "labelExpr": "indexof([0.3,1,2,3,4,5,6,7,8,10,20,30], datum.value) >= 0 ? '' + datum.value : ''",
                 "title": "pₜ (GeV/c)", "titleAnchor": "end", "titleFontSize": 16, "titleFontWeight": "bold", "titlePadding": 2}},
  "y": {"field": "r", "type": "quantitative", "scale": {"type": "linear", "domain": [0.41, 2.098], "nice": false, "zero": false},
        "axis": {"orient": "left", "values": [0.5,0.6,0.7,0.8,0.9,1,1.1,1.2,1.3,1.4,1.5,1.6,1.7,1.8,1.9,2],
                 "tickSize": {"condition": {"test": "datum.value == 0.5 || datum.value == 1 || datum.value == 1.5 || datum.value == 2", "value": -12}, "value": -6},
                 "labelPadding": 17, "labelFontSize": 14,
                 "labelExpr": "indexof([0.5,1,1.5,2], datum.value) >= 0 ? format(datum.value, '.1f') : ''",
                 "title": ["Pythia, Data", "TCM fit"], "titleAnchor": "end", "titleFontSize": 15, "titleFontWeight": "bold", "titlePadding": 4}}
 }},
{"data": {"name": "pp"}, "mark": {"type": "rect", "filled": false, "color": "black", "strokeWidth": 1.2},
 "encoding": {
  "x": {"field": "xlo", "type": "quantitative", "scale": {"type": "log", "domain": [0.3, 35], "nice": false}, "axis": null},
  "x2": {"field": "xhi"},
  "y": {"field": "rlo", "type": "quantitative", "scale": {"type": "linear", "domain": [0.41, 2.098], "nice": false, "zero": false}, "axis": null},
  "y2": {"field": "rhi"}
 }},
{"data": {"name": "pp"}, "mark": {"type": "rule", "color": "black", "strokeWidth": 1.2},
 "encoding": {
  "x": {"field": "x", "type": "quantitative", "scale": {"type": "log", "domain": [0.3, 35], "nice": false}, "axis": null},
  "y": {"field": "elo", "type": "quantitative", "scale": {"type": "linear", "domain": [0.41, 2.098], "nice": false, "zero": false}, "axis": null},
  "y2": {"field": "ehi"}
 }},
{"data": {"name": "pp"}, "mark": {"type": "circle", "size": 26, "color": "black", "opacity": 1},
 "encoding": {
  "x": {"field": "x", "type": "quantitative", "scale": {"type": "log", "domain": [0.3, 35], "nice": false}, "axis": null},
  "y": {"field": "r", "type": "quantitative", "scale": {"type": "linear", "domain": [0.41, 2.098], "nice": false, "zero": false}, "axis": null}
 }}
]
}
],
"spacing": 0,
"bounds": "flush",
"resolve": {"scale": {"color": "independent", "strokeDash": "independent", "shape": "independent"}, "legend": {"color": "independent", "strokeDash": "independent", "shape": "independent"}}
},
{
"width": 412, "height": 624,
"view": {"stroke": "black", "strokeWidth": 1.5},
"title": {"text": "ALI-PREL-148472", "orient": "bottom", "anchor": "start", "frame": "bounds", "font": "DejaVu Sans Mono", "fontSize": 11.5, "fontWeight": "bold", "color": "#c0c0c0", "offset": 4},
"resolve": {"axis": {"x": "independent", "y": "independent"}, "scale": {"strokeDash": "independent"}, "legend": {"strokeDash": "independent"}},
"layer": [
{"data": {"name": "pbpb"}, "mark": {"type": "point", "opacity": 0},
 "encoding": {
  "x": {"field": "x", "type": "quantitative", "scale": {"type": "log", "domain": [0.3, 39.5], "nice": false},
        "axis": {"orient": "top", "values": [0.3,0.4,0.5,0.6,0.7,0.8,0.9,1,2,3,4,5,6,7,8,9,10,20,30], "labels": false, "title": " ", "titleFontSize": 10, "titlePadding": 3,
                 "tickSize": {"condition": {"test": "datum.value == 1 || datum.value == 10", "value": -16}, "value": -8}}},
  "y": {"field": "y", "type": "quantitative", "scale": {"type": "log", "domain": [1e-10, 1e5], "nice": false},
        "axis": {"orient": "right", "values": [1e-10,2e-10,3e-10,4e-10,5e-10,6e-10,7e-10,8e-10,9e-10,1e-9,2e-9,3e-9,4e-9,5e-9,6e-9,7e-9,8e-9,9e-9,1e-8,2e-8,3e-8,4e-8,5e-8,6e-8,7e-8,8e-8,9e-8,1e-7,2e-7,3e-7,4e-7,5e-7,6e-7,7e-7,8e-7,9e-7,1e-6,2e-6,3e-6,4e-6,5e-6,6e-6,7e-6,8e-6,9e-6,1e-5,2e-5,3e-5,4e-5,5e-5,6e-5,7e-5,8e-5,9e-5,1e-4,2e-4,3e-4,4e-4,5e-4,6e-4,7e-4,8e-4,9e-4,0.001,0.002,0.003,0.004,0.005,0.006,0.007,0.008,0.009,0.01,0.02,0.03,0.04,0.05,0.06,0.07,0.08,0.09,0.1,0.2,0.3,0.4,0.5,0.6,0.7,0.8,0.9,1,2,3,4,5,6,7,8,9,10,20,30,40,50,60,70,80,90,100,200,300,400,500,600,700,800,900,1000,2000,3000,4000,5000,6000,7000,8000,9000,1e4,2e4,3e4,4e4,5e4,6e4,7e4,8e4,9e4,1e5], "labels": false, "title": null,
                 "tickSize": {"condition": {"test": "abs(log(datum.value)/LN10 - round(log(datum.value)/LN10)) < 1e-6", "value": -13}, "value": -6}}}
 }},
{"data": {"name": "pbfit"}, "mark": {"type": "line", "strokeWidth": 1.3},
 "encoding": {
  "x": {"field": "x", "type": "quantitative", "scale": {"type": "log", "domain": [0.3, 39.5], "nice": false},
        "axis": {"orient": "bottom", "values": [0.3,0.4,0.5,0.6,0.7,0.8,0.9,1,2,3,4,5,6,7,8,9,10,20,30],
                 "tickSize": {"condition": {"test": "datum.value == 1 || datum.value == 10", "value": -16}, "value": -8},
                 "labelPadding": {"condition": {"test": "datum.value == 1 || datum.value == 10", "value": 36}, "value": 28},
                 "labelFontSize": 16,
                 "labelExpr": "datum.value == 0.3 ? '3×10⁻¹' : indexof([1,2,3,4,5,6,7,10,20,30], datum.value) >= 0 ? '' + datum.value : ''",
                 "title": "pₜ (GeV/c)", "titleAnchor": "end", "titleFontSize": 20, "titleFontWeight": "bold", "titlePadding": 11}},
  "y": {"field": "y", "type": "quantitative", "scale": {"type": "log", "domain": [1e-10, 1e5], "nice": false},
        "axis": {"orient": "left", "values": [1e-10,2e-10,3e-10,4e-10,5e-10,6e-10,7e-10,8e-10,9e-10,1e-9,2e-9,3e-9,4e-9,5e-9,6e-9,7e-9,8e-9,9e-9,1e-8,2e-8,3e-8,4e-8,5e-8,6e-8,7e-8,8e-8,9e-8,1e-7,2e-7,3e-7,4e-7,5e-7,6e-7,7e-7,8e-7,9e-7,1e-6,2e-6,3e-6,4e-6,5e-6,6e-6,7e-6,8e-6,9e-6,1e-5,2e-5,3e-5,4e-5,5e-5,6e-5,7e-5,8e-5,9e-5,1e-4,2e-4,3e-4,4e-4,5e-4,6e-4,7e-4,8e-4,9e-4,0.001,0.002,0.003,0.004,0.005,0.006,0.007,0.008,0.009,0.01,0.02,0.03,0.04,0.05,0.06,0.07,0.08,0.09,0.1,0.2,0.3,0.4,0.5,0.6,0.7,0.8,0.9,1,2,3,4,5,6,7,8,9,10,20,30,40,50,60,70,80,90,100,200,300,400,500,600,700,800,900,1000,2000,3000,4000,5000,6000,7000,8000,9000,1e4,2e4,3e4,4e4,5e4,6e4,7e4,8e4,9e4,1e5],
                 "tickSize": {"condition": {"test": "abs(log(datum.value)/LN10 - round(log(datum.value)/LN10)) < 1e-6", "value": -13}, "value": -6},
                 "labelPadding": 21, "labelFontSize": 15,
                 "labelExpr": "abs(log(datum.value)/LN10 - round(log(datum.value)/LN10)) < 1e-6 ? (datum.value == 1 ? '1' : datum.value == 10 ? '10' : '10' + replace(replace(replace(replace(replace(replace(replace(replace(replace(replace(replace('' + round(log(datum.value)/LN10), '-', '⁻'), regexp('1','g'), '¹'), '0', '⁰'), '2', '²'), '3', '³'), '4', '⁴'), '5', '⁵'), '6', '⁶'), '7', '⁷'), '8', '⁸'), '9', '⁹')) : ''",
                 "title": "1/(2π Nₑᵥ) d²Nπ⁰/(pₜ dpₜ dy) (GeV/c)⁻²", "titleAnchor": "end", "titleFontSize": 18, "titleFontWeight": "bold", "titlePadding": 4}},
  "color": {"field": "c", "type": "nominal",
   "scale": {"domain": ["0-10 % × 2⁴", "20-40 % × 2²", "60-80 % × 2⁰"], "range": ["#d40000", "#00a000", "#0000cc"]}},
  "strokeDash": {"datum": "TCM fits to Pb-Pb", "type": "nominal",
   "scale": {"domain": ["TCM fits to Pb-Pb"], "range": [[5,2,1,2]]},
   "legend": {"orient": "none", "legendX": 244, "legendY": 169, "title": null, "symbolType": "stroke", "symbolSize": 784, "symbolStrokeColor": "black", "symbolStrokeWidth": 1.3, "labelFontSize": 16, "labelOffset": 6}}
 }},
{"data": {"name": "shm"}, "mark": {"type": "line", "strokeWidth": 1.5},
 "encoding": {
  "x": {"field": "x", "type": "quantitative", "scale": {"type": "log", "domain": [0.3, 39.5], "nice": false}, "axis": null},
  "y": {"field": "y", "type": "quantitative", "scale": {"type": "log", "domain": [1e-10, 1e5], "nice": false}, "axis": null},
  "stroke": {"field": "m", "type": "nominal",
   "scale": {"domain": ["NEQ : \u00a00-10 % × 2⁴", "EQ : \u00a00-10 % × 2⁴", "NEQ : 20-40 % × 2²", "EQ : 20-40 % × 2²", "NEQ : 60-80 % × 2⁰", "EQ : 60-80 % × 2⁰"],
             "range": ["#d40000", "#d40000", "#00a000", "#00a000", "#0000cc", "#0000cc"]},
   "legend": {"orient": "none", "legendX": 41, "legendY": 419, "title": "SHM (V.Begun et al.)", "titleFontSize": 15, "titleFontWeight": "normal", "titlePadding": 7,
              "labelFontSize": 15, "symbolSize": 529, "symbolType": "stroke", "symbolStrokeWidth": 1.8, "rowPadding": 4.8, "labelOffset": 5}},
  "strokeDash": {"field": "m", "type": "nominal", "legend": null,
   "scale": {"domain": ["NEQ : \u00a00-10 % × 2⁴", "EQ : \u00a00-10 % × 2⁴", "NEQ : 20-40 % × 2²", "EQ : 20-40 % × 2²", "NEQ : 60-80 % × 2⁰", "EQ : 60-80 % × 2⁰"],
             "range": [[1,0],[2,2],[1,0],[2,2],[1,0],[2,2]]}}
 }},
{"data": {"name": "pbpb"}, "mark": {"type": "bar", "orient": "horizontal", "filled": false, "size": 7, "strokeWidth": 1.2},
 "encoding": {
  "x": {"field": "lo", "type": "quantitative", "scale": {"type": "log", "domain": [0.3, 39.5], "nice": false}, "axis": null},
  "x2": {"field": "hi"},
  "y": {"field": "y", "type": "quantitative", "scale": {"type": "log", "domain": [1e-10, 1e5], "nice": false}, "axis": null},
  "color": {"field": "c", "type": "nominal"}
 }},
{"data": {"name": "pbpb"}, "mark": {"type": "rule", "strokeWidth": 1.2},
 "encoding": {
  "x": {"field": "lo", "type": "quantitative", "scale": {"type": "log", "domain": [0.3, 39.5], "nice": false}, "axis": null},
  "x2": {"field": "hi"},
  "y": {"field": "y", "type": "quantitative", "scale": {"type": "log", "domain": [1e-10, 1e5], "nice": false}, "axis": null},
  "color": {"field": "c", "type": "nominal"}
 }},
{"data": {"name": "pbpb"}, "mark": {"type": "circle", "size": 55, "opacity": 1},
 "encoding": {
  "x": {"field": "x", "type": "quantitative", "scale": {"type": "log", "domain": [0.3, 39.5], "nice": false}, "axis": null},
  "y": {"field": "y", "type": "quantitative", "scale": {"type": "log", "domain": [1e-10, 1e5], "nice": false}, "axis": null},
  "color": {"field": "c", "type": "nominal",
   "legend": {"orient": "none", "legendX": 244, "legendY": 56, "title": "Pb-Pb at √sₙₙ = 5.02 TeV", "titleFontSize": 15, "titleFontWeight": "normal", "titlePadding": 18,
              "labelFontSize": 16, "symbolType": "circle", "symbolSize": 70, "symbolOffset": 12, "rowPadding": 12, "labelOffset": 11.6,
              "labelExpr": "datum.value == '0-10 % × 2⁴' ? '\u00a0' + datum.label : datum.label"}}
 }},
{"data": {"values": [{}]}, "mark": {"type": "text", "align": "left", "baseline": "middle", "fontSize": 19, "text": "ALICE Preliminary"},
 "encoding": {
  "x": {"datum": 0.371, "type": "quantitative", "scale": {"type": "log", "domain": [0.3, 39.5], "nice": false}, "axis": null},
  "y": {"datum": 26500, "type": "quantitative", "scale": {"type": "log", "domain": [1e-10, 1e5], "nice": false}, "axis": null}
 }}
]
}
]
}
